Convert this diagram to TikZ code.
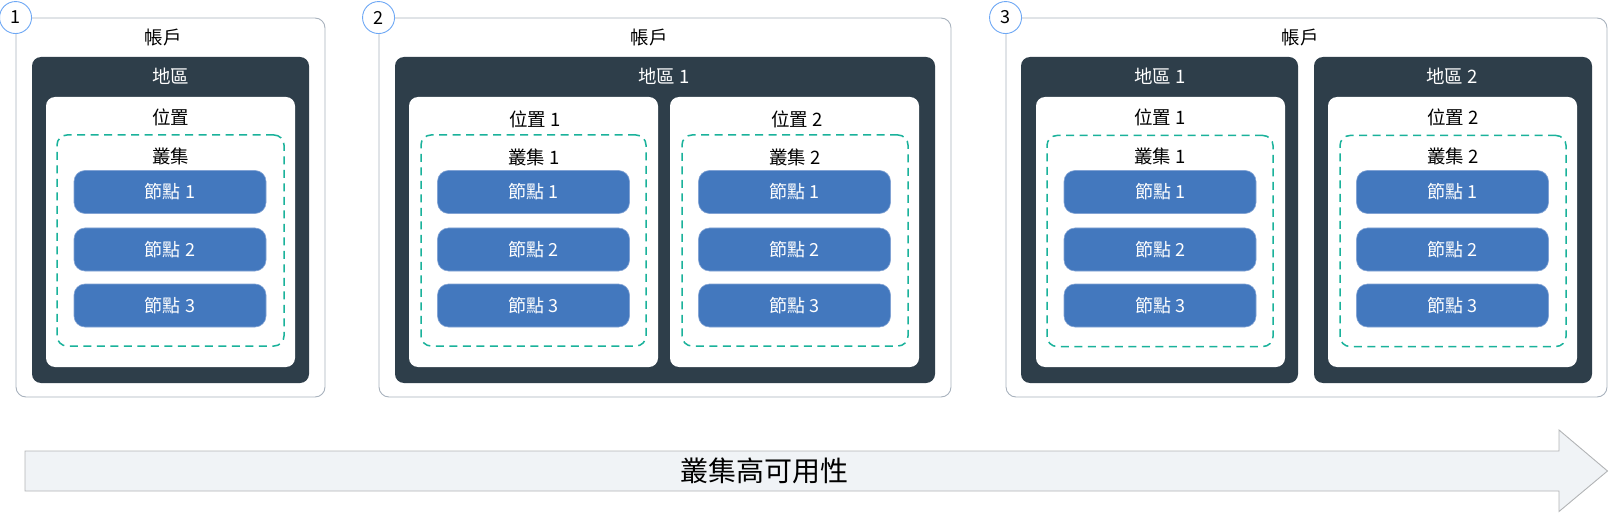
\documentclass[tikz,border=0pt]{standalone}
\usepackage{fontspec}
\setmainfont{Noto Sans CJK TC}
\usetikzlibrary{positioning,calc}
\definecolor{AcctGray}{RGB}{168,178,189}
\definecolor{RegionDark}{RGB}{46,62,74}
\definecolor{NodeBlue}{RGB}{67,120,190}
\definecolor{NodeEdge}{RGB}{130,163,212}
\definecolor{ClusterTeal}{RGB}{26,178,155}
\definecolor{BadgeBlue}{RGB}{110,168,245}
\definecolor{BannerFill}{RGB}{240,243,246}
\definecolor{BannerEdge}{RGB}{178,180,182}

\begin{document}
\begin{tikzpicture}[x=1pt,y=-1pt,
  acctbox/.style={rectangle,rounded corners=10pt,draw=AcctGray,line width=0.9pt,fill=white,minimum height=379pt},
  regionbox/.style={rectangle,rounded corners=9pt,fill=RegionDark,minimum height=326pt},
  sitebox/.style={rectangle,rounded corners=9pt,fill=white,minimum width=249pt,minimum height=270pt},
  clusterbox/.style={rectangle,rounded corners=10pt,draw=ClusterTeal,line width=1.5pt,dash pattern=on 8pt off 5.5pt,minimum height=211pt},
  nodebox/.style={rectangle,rounded corners=11pt,draw=NodeEdge,line width=0.6pt,fill=NodeBlue,text=white,minimum width=192pt,minimum height=43pt,font=\fontsize{18}{20}\selectfont},
  badge/.style={circle,draw=BadgeBlue,line width=0.9pt,fill=white,minimum size=32pt,inner sep=0pt,font=\fontsize{18}{20}\selectfont},
  lbl/.style={inner sep=0pt,font=\fontsize{18.5}{20}\selectfont},
  lblw/.style={lbl,text=white},
  banner/.style={draw=BannerEdge,line width=0.9pt,fill=BannerFill}
]
  \useasboundingbox (0,0) rectangle (1609,513);

  % 1
  \node[acctbox,minimum width=309pt] (acc1) at (170.5,207.5) {};
  \node[regionbox,minimum width=277pt] (reg1) at (170.5,220) {};
  \node[sitebox] (loc1) at (170.5,232) {};
  \node[clusterbox,minimum width=227pt] (clu1) at (170.5,240.5) {};
  \node[badge] (b1) at (acc1.north west) {1};
  \node[lbl] (t1) at (163,38) {帳戶};
  \node[lblw] (r1) at (170.5,76) {地區};
  \node[lbl] (l1) at (170.5,117) {位置};
  \node[lbl] (c1) at (170.5,156) {叢集};
  \node[nodebox] (n11) at (170,192) {節點 1};
  \node[nodebox] (n12) at (170,249.5) {節點 2};
  \node[nodebox] (n13) at (170,305.5) {節點 3};

  % 2
  \node[acctbox,minimum width=572pt] (acc2) at (665,207.5) {};
  \node[regionbox,minimum width=540pt] (reg2) at (665,220) {};
  \node[sitebox] (loc21) at (533.5,232) {};
  \node[sitebox] (loc22) at (794.5,232) {};
  \node[clusterbox,minimum width=225pt] (clu21) at (533.5,240.5) {};
  \node[clusterbox,minimum width=226pt] (clu22) at (795,240.5) {};
  \node[badge] (b2) at (acc2.north west) {2};
  \node[lbl] (t2) at (649,38) {帳戶};
  \node[lblw] (r2) at (664,76) {地區 1};
  \node[lbl] (l21) at (535,119) {位置 1};
  \node[lbl] (l22) at (797,119) {位置 2};
  \node[lbl] (c21) at (534,157) {叢集 1};
  \node[lbl] (c22) at (795,157) {叢集 2};
  \node[nodebox] (n211) at (533.5,192) {節點 1};
  \node[nodebox] (n212) at (533.5,249.5) {節點 2};
  \node[nodebox] (n213) at (533.5,305.5) {節點 3};
  \node[nodebox] (n221) at (794.5,192) {節點 1};
  \node[nodebox] (n222) at (794.5,249.5) {節點 2};
  \node[nodebox] (n223) at (794.5,305.5) {節點 3};

  % 3
  \node[acctbox,minimum width=601pt] (acc3) at (1306.5,207.5) {};
  \node[regionbox,minimum width=277pt] (reg31) at (1159.5,220) {};
  \node[regionbox,minimum width=278pt] (reg32) at (1453,220) {};
  \node[sitebox] (loc31) at (1160.5,232) {};
  \node[sitebox] (loc32) at (1452.5,232) {};
  \node[clusterbox,minimum width=226pt] (clu31) at (1160,241) {};
  \node[clusterbox,minimum width=226pt] (clu32) at (1453,241) {};
  \node[badge] (b3) at (acc3.north west) {3};
  \node[lbl] (t3) at (1300,38) {帳戶};
  \node[lblw] (r31) at (1160,76) {地區 1};
  \node[lblw] (r32) at (1452,76) {地區 2};
  \node[lbl] (l31) at (1160,117) {位置 1};
  \node[lbl] (l32) at (1453,117) {位置 2};
  \node[lbl] (c31) at (1160,156) {叢集 1};
  \node[lbl] (c32) at (1453,156) {叢集 2};
  \node[nodebox] (n311) at (1160,192) {節點 1};
  \node[nodebox] (n312) at (1160,249.5) {節點 2};
  \node[nodebox] (n313) at (1160,305.5) {節點 3};
  \node[nodebox] (n321) at (1452.5,192) {節點 1};
  \node[nodebox] (n322) at (1452.5,249.5) {節點 2};
  \node[nodebox] (n323) at (1452.5,305.5) {節點 3};

  \draw[banner] (25,451) -- (1559,451) -- (1559,430) -- (1607.5,471) -- (1559,511.5) -- (1559,491) -- (25,491) -- cycle;
  \node[inner sep=0pt,font=\fontsize{28}{30}\selectfont] (ha) at (764,471) {叢集高可用性};
\end{tikzpicture}
\end{document}
